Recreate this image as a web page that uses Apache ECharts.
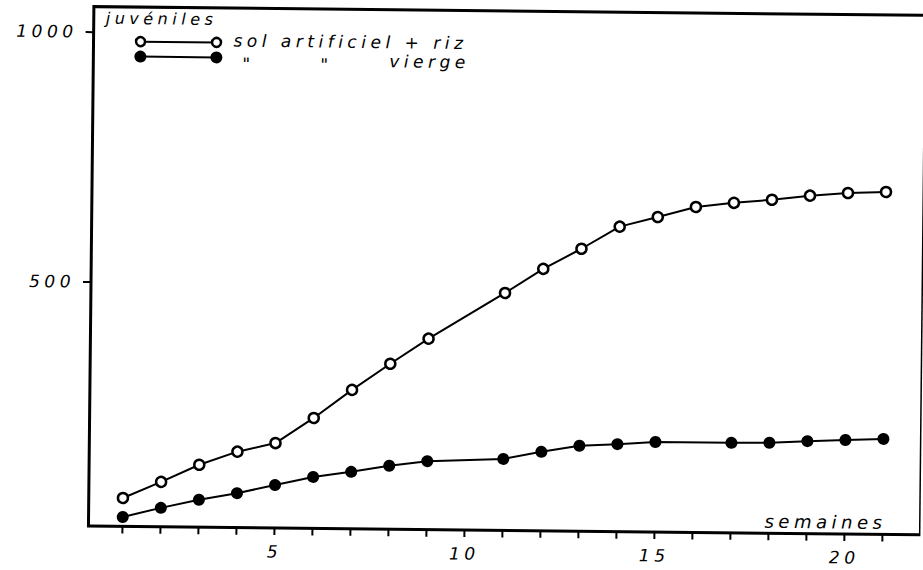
<!DOCTYPE html>
<html>
<head>
<meta charset="utf-8">
<script src="https://cdn.jsdelivr.net/npm/echarts@6/dist/echarts.min.js"></script>
<style>
  html, body { margin: 0; padding: 0; background: #fff; overflow: hidden; }
  #chart { width: 923px; height: 570px; transform: rotate(0.6deg); transform-origin: 461.5px 285px; }
  #chart text { letter-spacing: 4.5px; }
</style>
</head>
<body>
<div id="chart"></div>
<script>
// Semaines d'élevage et nombre de juvéniles
const weeksRiz = [1, 2, 3, 4, 5, 6, 7, 8, 9, 11, 12, 13, 14, 15, 16, 17, 18, 19, 20, 21];
const juvenilesRiz = [68, 101, 136, 163, 181, 232, 289, 342, 393, 486, 535, 576, 621, 641, 662, 671, 678, 687, 693, 696];
const weeksVierge = [1, 2, 3, 4, 5, 6, 7, 8, 9, 11, 12, 13, 14, 15, 17, 18, 19, 20, 21];
const juvenilesVierge = [30, 49, 66, 80, 97, 114, 125, 138, 148, 154, 169, 182, 186, 191, 191, 192, 196, 199, 202];

const xTickValues = [1, 2, 3, 4, 5, 6, 7, 8, 9, 10, 11, 12, 13, 14, 15, 16, 17, 18, 19, 20, 21];
const xLabelValues = [5, 10, 15, 20];
const yLabelValues = [500, 1000];

const FONT = 'DejaVu Sans';
const pairs = (xs, ys) => xs.map((x, i) => [x, ys[i]]);

const chart = echarts.init(document.getElementById('chart'), null, { renderer: 'svg' });

const labelStyle = { color: '#000', fontFamily: FONT, fontStyle: 'italic', fontSize: 17, formatter: v => String(v) };
const legendFont = 'italic 17px "DejaVu Sans"';

chart.setOption({
  animation: false,
  backgroundColor: '#fff',
  grid: {
    left: 91, right: -1, top: 10.5, bottom: 40,
    show: true, borderColor: '#000', borderWidth: 3, backgroundColor: 'transparent'
  },
  xAxis: {
    type: 'value', min: 0.1, max: 22,
    axisLine: { show: false },
    splitLine: { show: false },
    axisTick: { show: true, inside: false, length: 7, customValues: xTickValues, lineStyle: { color: '#000', width: 2 } },
    axisLabel: Object.assign({ customValues: xLabelValues, margin: 15 }, labelStyle)
  },
  yAxis: {
    type: 'value', min: 11, max: 1050,
    axisLine: { show: false },
    splitLine: { show: false },
    axisTick: { show: true, inside: false, length: 8, customValues: yLabelValues, lineStyle: { color: '#000', width: 2 } },
    axisLabel: Object.assign({ customValues: yLabelValues, margin: 16 }, labelStyle)
  },
  series: [
    {
      name: 'sol artificiel + riz', type: 'line', data: pairs(weeksRiz, juvenilesRiz),
      symbol: 'circle', symbolSize: 10, z: 3,
      lineStyle: { color: '#000', width: 2 },
      itemStyle: { color: '#fff', borderColor: '#000', borderWidth: 2.5 }
    },
    {
      name: 'sol vierge', type: 'line', data: pairs(weeksVierge, juvenilesVierge),
      symbol: 'circle', symbolSize: 12, z: 3,
      lineStyle: { color: '#000', width: 2 },
      itemStyle: { color: '#000', borderColor: '#000', borderWidth: 0 }
    }
  ],
  graphic: [
    { type: 'text', left: 103, top: 14, style: { text: 'juvéniles', font: 'italic 16px "DejaVu Sans"', fill: '#000' } },
    // legend row: sol artificiel + riz
    { type: 'line', shape: { x1: 138, y1: 45, x2: 214, y2: 45 }, style: { stroke: '#000', lineWidth: 2 } },
    { type: 'circle', shape: { cx: 138, cy: 45, r: 4.5 }, style: { fill: '#fff', stroke: '#000', lineWidth: 2.5 } },
    { type: 'circle', shape: { cx: 214, cy: 45, r: 4.5 }, style: { fill: '#fff', stroke: '#000', lineWidth: 2.5 } },
    { type: 'text', x: 231, y: 43, style: { text: 'sol artificiel + riz', font: legendFont, fill: '#000', verticalAlign: 'middle' } },
    // legend row: vierge
    { type: 'line', shape: { x1: 138, y1: 60, x2: 214, y2: 60 }, style: { stroke: '#000', lineWidth: 2 } },
    { type: 'circle', shape: { cx: 138, cy: 60, r: 6 }, style: { fill: '#000' } },
    { type: 'circle', shape: { cx: 214, cy: 60, r: 6 }, style: { fill: '#000' } },
    { type: 'text', x: 240, y: 66, style: { text: '"', font: legendFont, fill: '#000', verticalAlign: 'middle' } },
    { type: 'text', x: 318, y: 66, style: { text: '"', font: legendFont, fill: '#000', verticalAlign: 'middle' } },
    { type: 'text', x: 387, y: 62, style: { text: 'vierge', font: legendFont, fill: '#000', verticalAlign: 'middle' } },
    // x axis name
    { type: 'text', x: 767, y: 518, style: { text: 'semaines', font: 'italic 18px "DejaVu Sans"', fill: '#000', verticalAlign: 'middle' } }
  ]
});
</script>
</body>
</html>
